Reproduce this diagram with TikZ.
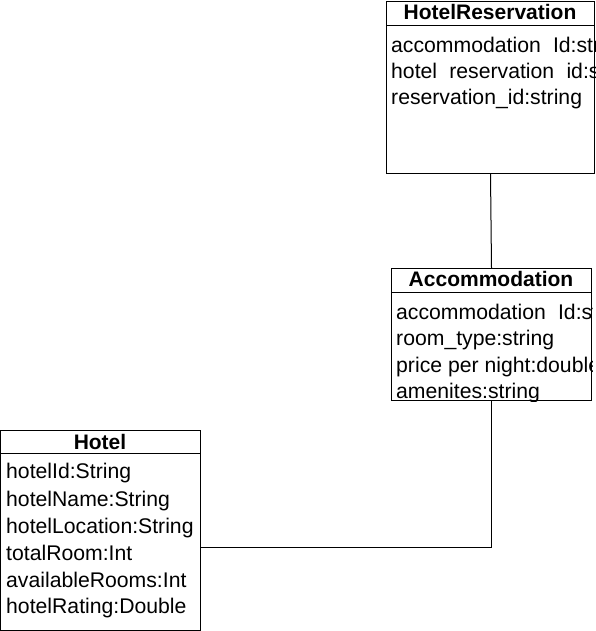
\documentclass[tikz,border=0pt]{standalone}
\usepackage{fontspec}
\setmainfont{Liberation Sans}
\begin{document}
\begin{tikzpicture}[x=1pt,y=-1pt]%
	\tikzstyle{box}=[rectangle, draw=black, line width=1pt, anchor=north west, inner sep=0pt];
	\tikzstyle{title}=[anchor=base, inner sep=0pt, font=\bfseries\fontsize{21}{24}\selectfont];
	\tikzstyle{field}=[anchor=base west, inner sep=0pt, font=\fontsize{21.2}{24}\selectfont];
	\useasboundingbox (0,0) rectangle (596,631);
	% class boxes
	\node[minimum width=208pt, minimum height=172pt] at (386,1) [box] (res) {};
	\node[minimum width=200pt, minimum height=132pt] at (391,268) [box] (acc) {};
	\node[minimum width=200pt, minimum height=200pt] at (0,430) [box] (hotel) {};
	% header lines
	\draw[line width=1pt] ([yshift=-25pt]res.north west) -- ([yshift=-25pt]res.north east);
	\draw[line width=1pt] ([yshift=-24pt]acc.north west) -- ([yshift=-24pt]acc.north east);
	\draw[line width=1pt] ([yshift=-23pt]hotel.north west) -- ([yshift=-23pt]hotel.north east);
	% titles
	\node at (490,20) [title] (res-title) {HotelReservation};
	\node at (491,286) [title] (acc-title) {Accommodation};
	\node at (100,449) [title] (hotel-title) {Hotel};
	% fields
	\begin{scope}
		\clip (res.north west) rectangle (res.south east);
		\node at (391,53) [field] (res-f1) {accommodation\hspace{0.3em} Id:string};
		\node at (391,79) [field] (res-f2) {hotel\hspace{0.3em} reservation\hspace{0.3em} id:string};
		\node at (391,105) [field] (res-f3) {reservation\_id:string};
	\end{scope}
	\begin{scope}
		\clip (acc.north west) rectangle (acc.south east);
		\node at (396,319) [field] (acc-f1) {accommodation\hspace{0.3em} Id:string};
		\node at (396,345) [field] (acc-f2) {room\_type:string};
		\node at (396,372) [field] (acc-f3) {price per night:double};
		\node at (396,398) [field] (acc-f4) {amenites:string};
	\end{scope}
	\begin{scope}
		\clip (hotel.north west) rectangle (hotel.south east);
		\node at (6,478) [field] (hotel-f1) {hotelId:String};
		\node at (6,506) [field] (hotel-f2) {hotelName:String};
		\node at (6,533) [field] (hotel-f3) {hotelLocation:String};
		\node at (6,560) [field] (hotel-f4) {totalRoom:Int};
		\node at (6,587) [field] (hotel-f5) {availableRooms:Int};
		\node at (6,613) [field] (hotel-f6) {hotelRating:Double};
	\end{scope}
	% links
	\draw[line width=1pt] (res.south) -- (acc.north);
	\draw[line width=1pt] (acc.south) |- ([yshift=-17pt]hotel.east);
\end{tikzpicture}
\end{document}
